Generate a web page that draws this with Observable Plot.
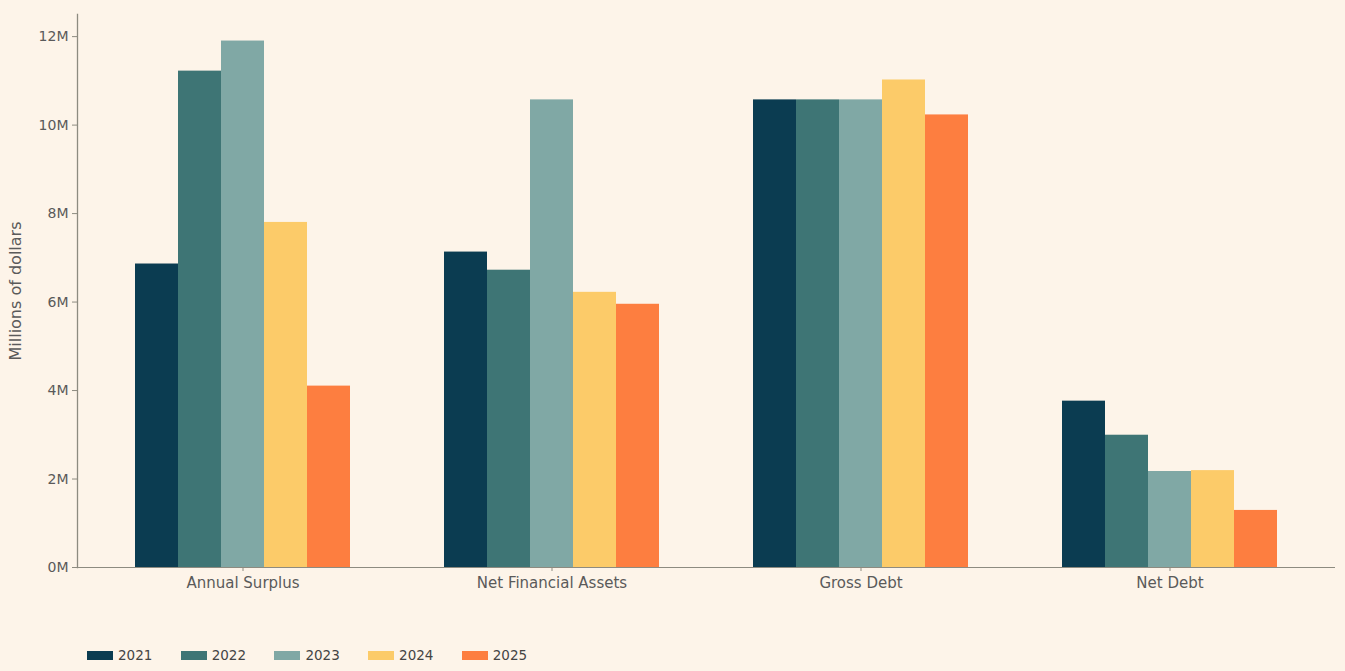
<!DOCTYPE html>
<html>
<head>
<meta charset="utf-8">
<script src="https://cdn.jsdelivr.net/npm/d3@7"></script>
<script src="https://cdn.jsdelivr.net/npm/@observablehq/plot@0.6"></script>
<style>
  html, body { margin: 0; padding: 0; background: #fdf4e9; }
  #chart { width: 1345px; }
  .legend { display: flex; align-items: center; margin-left: 87px; margin-top: 31px; font-family: "DejaVu Sans", sans-serif; font-size: 13.5px; color: #444; line-height: 18px; }
  .legend .item { display: flex; align-items: center; width: 93.7px; }
  .legend .sw { width: 26px; height: 9px; margin-right: 5px; }
</style>
</head>
<body>
<div id="chart"></div>
<script>
const categories = ["Annual Surplus", "Net Financial Assets", "Gross Debt", "Net Debt"];
const years = ["2021", "2022", "2023", "2024", "2025"];
const colors = ["#0b3c51", "#3e7575", "#80a8a5", "#fccb69", "#fd7e40"];
// values in dollars, per year for each category
const v2021 = [6.86e6, 7.13e6, 10.57e6, 3.76e6];
const v2022 = [11.22e6, 6.72e6, 10.57e6, 2.99e6];
const v2023 = [11.90e6, 10.57e6, 10.57e6, 2.17e6];
const v2024 = [7.80e6, 6.22e6, 11.02e6, 2.19e6];
const v2025 = [4.10e6, 5.95e6, 10.23e6, 1.29e6];
const yTicks = [0, 2e6, 4e6, 6e6, 8e6, 10e6, 12e6];
const yLabel = "Millions of dollars";

const series = [v2021, v2022, v2023, v2024, v2025];
const data = [];
categories.forEach((c, i) => years.forEach((y, j) => data.push({category: c, year: y, value: series[j][i]})));

const axisColor = "#8d8b80";
const plot = Plot.plot({
  width: 1345,
  height: 615,
  marginLeft: 88,
  marginRight: 21,
  marginTop: 14,
  marginBottom: 48,
  style: {background: "transparent", fontFamily: "DejaVu Sans, sans-serif", fontSize: "14px", color: "#5a5a5a"},
  fx: {domain: categories, padding: 0},
  x: {domain: years, axis: null, paddingInner: 0, paddingOuter: 1.08},
  y: {domain: [0, 12.5e6]},
  color: {domain: years, range: colors},
  marks: [
    Plot.barY(data, {fx: "category", x: "year", y: "value", fill: "year"}),
    Plot.axisY({ticks: yTicks, tickFormat: d => (d / 1e6) + "M", label: null, tickSize: 5, tickPadding: 4, dx: -11, fontSize: 14, stroke: axisColor}),
    Plot.frame({anchor: "left", facetAnchor: "left", dx: -11, stroke: axisColor, strokeWidth: 1.3}),
    Plot.text([yLabel], {fx: () => categories[0], text: d => d, frameAnchor: "left", textAnchor: "middle", rotate: -90, dx: -73, fontSize: 16, fill: "#5a5a5a"}),
    Plot.axisFx({anchor: "bottom", label: null, tickSize: 4, tickPadding: 6, fontSize: 15, stroke: axisColor}),
    Plot.ruleY([0], {stroke: axisColor, strokeWidth: 1.3, insetLeft: -11, insetRight: -11, shapeRendering: "crispEdges"})
  ]
});
document.getElementById("chart").appendChild(plot);

const legend = document.createElement("div");
legend.className = "legend";
years.forEach((y, j) => {
  const item = document.createElement("div");
  item.className = "item";
  const sw = document.createElement("span");
  sw.className = "sw";
  sw.style.background = colors[j];
  const t = document.createElement("span");
  t.textContent = y;
  item.appendChild(sw); item.appendChild(t);
  legend.appendChild(item);
});
document.getElementById("chart").appendChild(legend);
</script>
</body>
</html>
